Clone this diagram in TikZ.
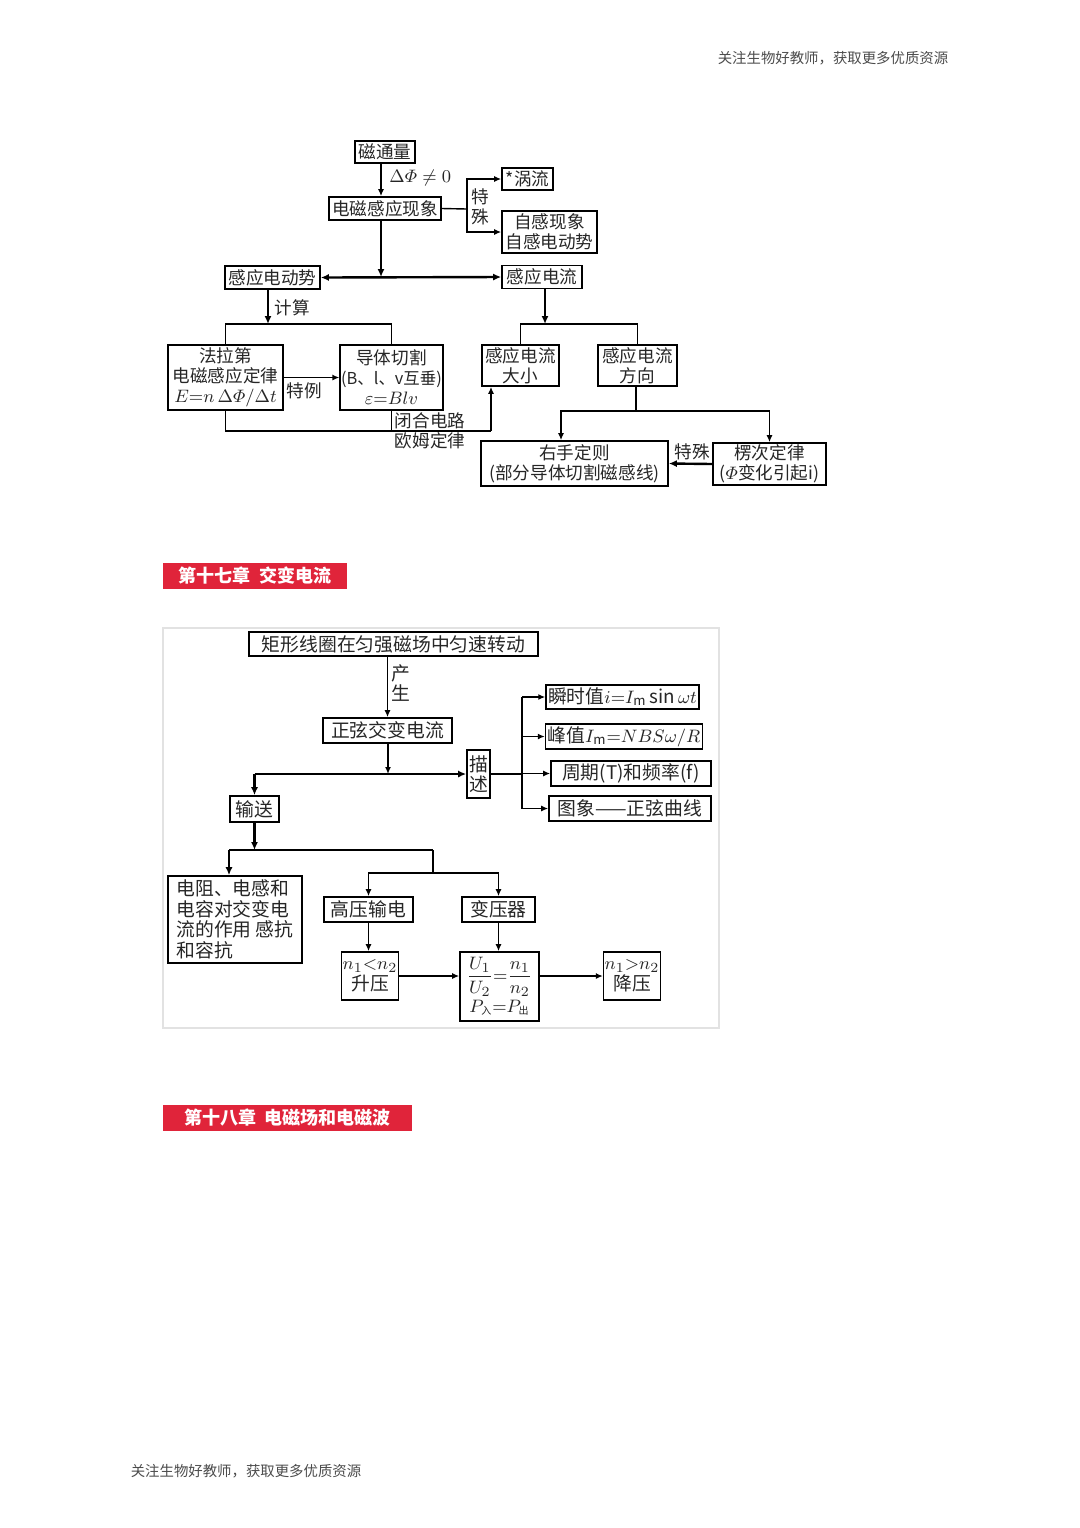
\documentclass[tikz,border=0pt]{standalone}
\usepackage{amsmath}
\usepackage{fontspec}
\setmainfont{Noto Sans CJK SC}
\usetikzlibrary{arrows.meta}
\definecolor{hdrred}{RGB}{224,36,58}
\definecolor{framegray}{RGB}{226,226,226}
\tikzset{
	box/.style={draw, line width=0.8pt, inner sep=1pt, align=center, text=black!85, font=\fontsize{8.8}{10}\selectfont},
	boxb/.style={box, font=\fontsize{9.4}{10.3}\selectfont},
	lbl/.style={inner sep=0.5pt, align=center, text=black!85, font=\fontsize{8.8}{10}\selectfont},
	ln/.style={line width=0.7pt},
	thln/.style={line width=1.2pt},
	arr/.style={line width=0.7pt, -{Latex[length=3.5pt,width=3pt]}},
	tharr/.style={line width=1.2pt, -{Latex[length=4pt,width=3.5pt]}},
	hdr/.style={fill=hdrred, text=white, inner sep=1pt, font=\fontsize{9}{10}\selectfont\bfseries},
	foot/.style={text=black!70, inner sep=0pt, font=\fontsize{7.2}{8}\selectfont},
}

\begin{document}
\begin{tikzpicture}[x=0.5pt, y=-0.5pt]
		%%%%% START %%%%%
		\path[fill=white, use as bounding box] (0,0) rectangle (1080,1528);
		
		\node[foot] (ftop) at (833,58) {关注生物好教师，获取更多优质资源};
		\node[foot] (fbot) at (246,1471) {关注生物好教师，获取更多优质资源};
		
		% electromagnetic induction
		\node[box, minimum width=30pt, minimum height=11pt] (ctl) at (385,152) {磁通量};
		\node[box, minimum width=56pt, minimum height=11.5pt] (dcgy) at (385,208.5) {电磁感应现象};
		\node[box, minimum width=25.5pt, minimum height=11pt] (wl) at (527.5,179) {*涡流};
		\node[box, minimum width=47.5pt, minimum height=21pt] (zg) at (549.5,232) {自感现象\\自感电动势};
		\node[box, minimum width=47.5pt, minimum height=11.5pt] (gydds) at (272.5,277.5) {感应电动势};
		\node[box, minimum width=40pt, minimum height=11.5pt] (gydl) at (542,277) {感应电流};
		\node[box, minimum width=57.5pt, minimum height=32.5pt, inner sep=0.5pt] (fld) at (225.5,377.5) {法拉第\\电磁感应定律\\$E{=}n\,\Delta\varPhi/\Delta t$};
		\node[box, minimum width=50.5pt, minimum height=32.5pt, inner sep=0.5pt] (dtqg) at (391.5,377.5) {导体切割\\{\fontsize{8.2}{10}\selectfont(B、l、v互垂)}\\$\varepsilon{=}Blv$};
		\node[box, minimum width=38.5pt, minimum height=20.5pt] (dx) at (520.5,365.5) {感应电流\\大小};
		\node[box, minimum width=39.5pt, minimum height=20.5pt] (fx) at (637.5,365.5) {感应电流\\方向};
		\node[box, minimum width=93.5pt, minimum height=22.5pt] (yszz) at (574.5,463.5) {右手定则\\(部分导体切割磁感线)};
		\node[box, minimum width=56.5pt, minimum height=21pt, inner sep=0.5pt] (lcdl) at (769.5,464) {楞次定律\\($\varPhi$变化引起i)};
		
		\coordinate (ts) at (467,209);
		\coordinate (m1) at (381,277);
		\coordinate (js) at (268,324);
		\coordinate (jr) at (545,324);
		\coordinate (jb) at (491,431);
		\coordinate (jd) at (636,411);
		
		\draw[arr] ([xshift=-2pt]ctl.south) -- ([xshift=-2pt]dcgy.north);
		\node[lbl, anchor=west] (dphi) at (388,178) {$\Delta\varPhi\neq0$};
		\draw[ln] (dcgy.east) -- (ts);
		\draw[arr] (ts) |- (wl.west);
		\draw[arr] (ts) |- (zg.west);
		\node[lbl] (tsh) at (480,207) {特\\殊};
		\draw[tharr] ([xshift=-2pt]dcgy.south) -- (m1);
		\draw[thln, {Latex[length=4pt,width=3.5pt]}-{Latex[length=4pt,width=3.5pt]}] (gydds.east) -- (gydl.west);
		
		\draw[tharr] (gydds.south -| js) -- (js);
		\node[lbl] (js1) at (292,308) {计算};
		\draw[ln] (fld.north) -- (fld.north |- js) -- (dtqg.north |- js) -- (dtqg.north);
		\draw[arr] (fld.east) -- (dtqg.west);
		\node[lbl] (tl) at (304,391) {特例};
		\draw[ln] (fld.south) |- (jb);
		\draw[ln] (dtqg.south) -- (dtqg.south |- jb);
		\draw[arr] (jb) -- (jb |- dx.south);
		\node[lbl] (bh) at (430,430.5) {闭合电路\\欧姆定律};
		
		\draw[tharr] (gydl.south -| jr) -- (jr);
		\draw[ln] (dx.north) -- (dx.north |- jr) -- (fx.north |- jr) -- (fx.north);
		\draw[ln] (fx.south -| jd) -- (jd);
		\draw[arr] (jd) -| ([xshift=-6.75pt]yszz.north);
		\draw[arr] (jd) -| (lcdl.north);
		\draw[tharr] (lcdl.west) -- (yszz.east);
		\node[lbl] (tsh2) at (692,452) {特殊};
		
		% chapter 17
		\node[hdr, minimum width=92pt, minimum height=13pt] (h17) at (255,576) {第十七章\ \ 交变电流};
		\draw[framegray, line width=1pt] (163,628) rectangle (719,1028);
		
		\node[boxb, minimum width=144.5pt, minimum height=12pt] (jxxq) at (393.5,644) {矩形线圈在匀强磁场中匀速转动};
		\node[boxb, minimum width=64.5pt, minimum height=12.5pt] (zxjb) at (387.5,730.5) {正弦交变电流};
		\node[boxb, minimum width=11.5pt, minimum height=24pt, inner sep=0.5pt] (ms) at (478.5,774) {描\\述};
		\node[boxb, minimum width=24.5pt, minimum height=13pt] (ss) at (254.5,809) {输送};
		\node[boxb, minimum width=74.5pt, minimum height=12pt] (b1) at (622.5,697) {瞬时值$i{=}I_{\mathrm m}\sin\omega t$};
		\node[boxb, minimum width=74pt, minimum height=12.5pt] (b2) at (624,736.5) {峰值$I_{\mathrm m}{=}NBS\omega/R$};
		\node[boxb, minimum width=80pt, minimum height=12.5pt] (b3) at (631,773.5) {周期(T)和频率(f)};
		\node[boxb, minimum width=81pt, minimum height=12.5pt] (b4) at (630,808.5) {图象——正弦曲线};
		\node[boxb, minimum width=67pt, minimum height=43.5pt, align=left] (dz) at (235,919.5) {电阻、电感和\\电容对交变电\\流的作用\ 感抗\\和容抗};
		\node[boxb, minimum width=44.5pt, minimum height=12.5pt] (gy) at (368.5,909.5) {高压输电};
		\node[boxb, minimum width=36.5pt, minimum height=12.5pt] (byq) at (498.5,909.5) {变压器};
		\node[boxb, minimum width=27pt, minimum height=24pt, inner sep=0.5pt] (sy) at (370,976) {$n_1{<}n_2$\\升压};
		\node[boxb, minimum width=39.5pt, minimum height=34.5pt, inner sep=0.5pt] (ub) at (499.5,986.5) {$\dfrac{U_1}{U_2}{=}\dfrac{n_1}{n_2}$\\[1pt]$P_{\mbox{\tiny 入}}{=}P_{\mbox{\tiny 出}}$};
		\node[boxb, minimum width=27pt, minimum height=24pt, inner sep=0.5pt] (jy) at (632,976) {$n_1{>}n_2$\\降压};
		
		\coordinate (jm) at (388,774);
		\coordinate (jv) at (522,774);
		\coordinate (jt) at (254.5,850);
		\coordinate (jtl) at (229,850);
		\coordinate (jtr) at (433,850);
		\coordinate (jg) at (433,873);
		
		\draw[arr] (jxxq.south -| zxjb.north) -- (zxjb.north);
		\node[lbl, font=\fontsize{9.4}{10.3}\selectfont] (cs) at (401,683) {产\\生};
		\draw[arr] (zxjb.south -| jm) -- (jm);
		\draw[thln] (ss.north |- jm) -- (jm);
		\draw[tharr] (jm) -- (ms.west);
		\draw[tharr] (ss.north |- jm) -- (ss.north);
		\draw[ln] (ms.east) -- (jv);
		\draw[thln] (jv |- b1.west) -- (jv |- b4.west);
		\foreach \b in {b1,b2,b3,b4}
			\draw[arr] (jv |- \b.west) -- (\b.west);
		
		\draw[tharr] (ss.south) -- (jt);
		\draw[thln] (jtl) -- (jtr);
		\draw[tharr] (jtl) -- (jtl |- dz.north);
		\draw[ln] (jtr) -- (jg);
		\draw[arr] (jg) -| (gy.north);
		\draw[arr] (jg) -| (byq.north);
		\draw[arr] (gy.south) -- (gy.south |- sy.north);
		\draw[arr] (byq.south) -- (byq.south |- ub.north);
		\draw[arr] (sy.east) -- (sy.east -| ub.west);
		\draw[arr] (ub.east |- jy.west) -- (jy.west);
		
		% chapter 18
		\node[hdr, minimum width=124.5pt, minimum height=13pt] (h18) at (287.5,1118) {第十八章\ \ 电磁场和电磁波};
		%%%%% END %%%%%
\end{tikzpicture}
\end{document}
